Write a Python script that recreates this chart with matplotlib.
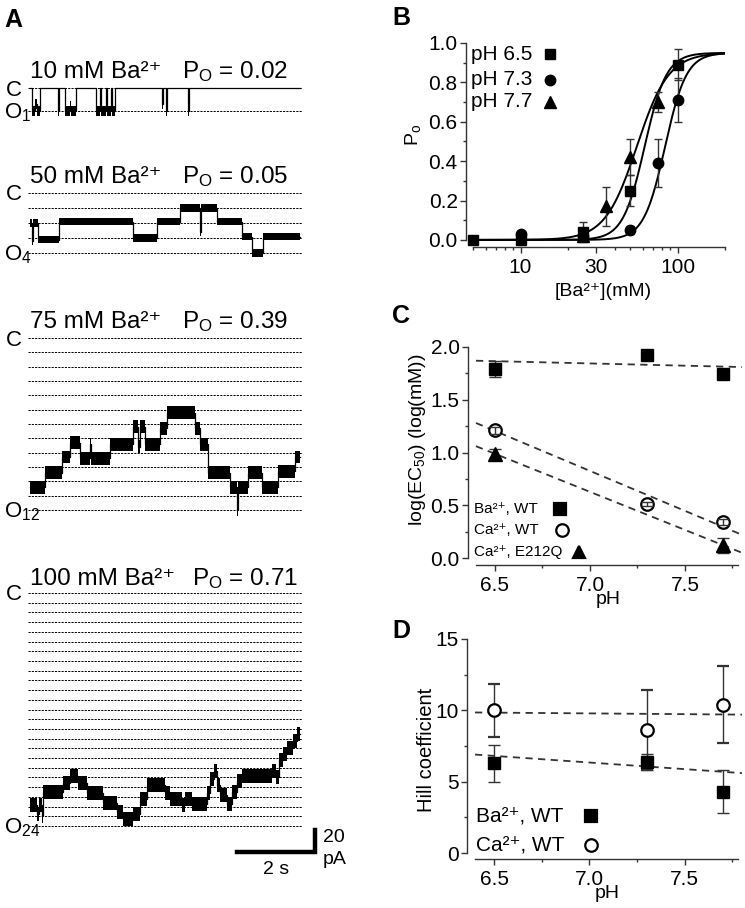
import numpy as np
import matplotlib
matplotlib.use("Agg")
import matplotlib.pyplot as plt
from matplotlib.ticker import FixedLocator, FixedFormatter, NullFormatter, MultipleLocator, FormatStrFormatter

plt.rcParams['font.family'] = ['Liberation Sans', 'DejaVu Sans']
plt.rcParams['mathtext.fontset'] = 'custom'
plt.rcParams['mathtext.rm'] = 'Liberation Sans'
plt.rcParams['mathtext.it'] = 'Liberation Sans:italic'

W, H = 745, 908

# ---------------- data: panel A (single-channel traces, levels) ----------------
trace_conc = ['10 mM Ba²⁺', '50 mM Ba²⁺', '75 mM Ba²⁺', '100 mM Ba²⁺']
trace_po = ['0.02', '0.05', '0.39', '0.71']
n_channels = [1, 4, 12, 24]

tr1_t = [0, 0.05, 0.14, 0.17, 0.26, 0.72, 0.74, 0.90, 1.03, 1.06, 1.18, 1.69, 1.79, 1.83, 1.95, 1.98,
         2.08, 2.10, 2.18, 3.38, 3.40, 3.49, 3.51, 4.05, 4.07, 6.92]
tr1_l = [0, 1, 0.7, 1, 0, 1, 0, 1, 0.8, 1, 0, 1, 0, 1, 0, 1,
         0, 1, 0, 0.7, 0, 1, 0, 1, 0, 0]

tr2_t = [0, 0.05, 0.07, 0.21, 0.74, 2.64, 3.26, 3.85, 4.36, 4.38, 4.79, 5.44, 5.69, 5.97, 6.92]
tr2_l = [2.0, 3.2, 2.0, 3.1, 1.9, 3.0, 1.9, 1.0, 2.6, 1.0, 1.9, 2.9, 4.0, 2.9, 2.9]

tr3_t = [0, 0.38, 0.82, 1.03, 1.28, 1.54, 1.56, 2.05, 2.64, 2.77, 2.82, 2.95, 3.33, 3.51, 4.23, 4.36,
         4.56, 5.13, 5.30, 5.33, 5.59, 5.95, 6.36, 6.79, 6.92]
tr3_l = [10.4, 9.4, 8.3, 7.3, 8.4, 7.4, 8.4, 7.4, 6.2, 7.6, 6.2, 7.4, 6.3, 5.2, 6.3, 7.4,
         9.4, 10.4, 12.0, 10.4, 9.4, 10.4, 9.3, 8.3, 8.3]

tr4_t = [0, 0.18, 0.22, 0.30, 0.33, 0.85, 1.03, 1.24, 1.45, 1.88, 2.22, 2.39, 2.65, 2.82, 3.00, 3.46,
         3.59, 3.89, 3.97, 4.15, 4.53, 4.62, 4.72, 4.79, 4.87, 5.04, 5.17, 5.30, 5.44, 6.20, 6.30,
         6.39, 6.49, 6.59, 6.74, 6.85, 6.92]
tr4_l = [21.8, 22.8, 21.8, 23.0, 20.5, 19.6, 18.9, 19.6, 20.6, 21.6, 22.6, 23.3, 22.8, 21.2, 19.8, 20.6,
         21.2, 21.8, 21.2, 21.7, 20.6, 19.2, 18.3, 19.8, 20.8, 21.7, 20.5, 19.4, 18.8, 18.3, 19.0,
         17.2, 16.6, 16.0, 15.2, 14.5, 14.5]

traces_t = [tr1_t, tr2_t, tr3_t, tr4_t]
traces_l = [tr1_l, tr2_l, tr3_l, tr4_l]

# ---------------- data: panel B ----------------
ba_conc_65 = [5, 10, 25, 50, 100]
po_65 = [0.0, 0.0, 0.04, 0.25, 0.89]
po_65_err = [0.0, 0.0, 0.05, 0.08, 0.08]
ba_conc_73 = [10, 25, 50, 75, 100]
po_73 = [0.03, 0.02, 0.05, 0.39, 0.71]
po_73_err = [0.0, 0.0, 0.02, 0.12, 0.11]
ba_conc_77 = [25, 35, 50, 75]
po_77 = [0.02, 0.17, 0.42, 0.70]
po_77_err = [0.0, 0.10, 0.09, 0.05]
# Hill fit parameters (log EC50 from C, n from D)
fit_logec50 = [1.79, 1.92, 1.74]
fit_hill = [6.3, 6.4, 4.3]
fit_pmax = 0.95

# ---------------- data: panel C ----------------
ph_vals = [6.5, 7.3, 7.7]
logec_ba = [1.79, 1.92, 1.74]
logec_ba_err = [0.075, 0.02, 0.02]
logec_ca = [1.21, 0.51, 0.34]
logec_ca_err = [0.03, 0.02, 0.03]
ph_e212q = [6.5, 7.7]
logec_e212q = [0.99, 0.12]
logec_e212q_err = [0.04, 0.07]
line_ph = [6.4, 7.8]
line_ba = [1.87, 1.81]
line_ca = [1.28, 0.22]
line_e212q = [1.06, 0.05]

# ---------------- data: panel D ----------------
hill_ba = [6.3, 6.4, 4.3]
hill_ba_err = [1.3, 0.55, 1.5]
hill_ca = [10.0, 8.6, 10.4]
hill_ca_err = [1.85, 2.8, 2.7]
hline_ba = [6.9, 5.6]
hline_ca = [9.85, 9.7]

fig = plt.figure(figsize=(W / 100, H / 100), dpi=100)


def box(x0, y0, x1, y1):
    return [x0 / W, 1 - y1 / H, (x1 - x0) / W, (y1 - y0) / H]


def fy(y):
    return 1 - y / H


# ================= panel A =================
c_y = [88, 193, 338, 593]
o_y = [111, 253, 510, 826]
band = [0.22, 0.25, 0.45, 0.72]
po_x = [182, 182, 182, 192]
ax4 = None
for k in range(4):
    n = n_channels[k]
    s = (o_y[k] - c_y[k]) / n
    ax = fig.add_axes(box(28, c_y[k] - 0.6 * s, 302, o_y[k] + 0.6 * s))
    ax.set_xlim(-0.05, 6.97)
    ax.set_ylim(n + 0.6, -0.6)
    ax.axis('off')
    for i in range(n + 1):
        ax.axhline(i, color='k', lw=0.7, ls=(0, (2.2, 1.2)), zorder=1)
    t = np.array(traces_t[k])
    lv = np.array(traces_l[k])
    w = np.where(lv > 0.05, band[k], 0.0)
    ax.fill_between(t, lv - w, lv + w, step='post', color='k', lw=0, zorder=3)
    ax.step(t, lv, where='post', color='k', lw=0.9, zorder=4)
    base = c_y[k] - (10 if k < 3 else 8)
    fig.text(30 / W, fy(base), trace_conc[k], fontsize=17.5, ha='left', va='baseline')
    fig.text(po_x[k] / W, fy(base), r'P$_\mathrm{O}$ = ' + trace_po[k], fontsize=17.5,
             ha='left', va='baseline')
    fig.text(6 / W, fy(c_y[k] + 2), 'C', fontsize=16, ha='left', va='center')
    fig.text(4 / W, fy(o_y[k] + 2), r'O$_{%d}$' % n, fontsize=16, ha='left', va='center')
    ax4 = ax

# scale bar (2 s, 20 pA) in the last trace's coordinates
sb_x0, sb_y0 = 5.31, 26.67
sb_len_s = 2.0
sb_height = 2.27
ax4.plot([sb_x0, sb_x0 + sb_len_s, sb_x0 + sb_len_s], [sb_y0, sb_y0, sb_y0 - sb_height],
         color='k', lw=3.2, solid_joinstyle='miter', clip_on=False)
ax4.text(sb_x0 + sb_len_s / 2, sb_y0 + 0.9, '2 s', fontsize=14, ha='center', va='top')
ax4.text(sb_x0 + sb_len_s + 0.2, sb_y0 - 1.5, '20', fontsize=14, ha='left', va='center')
ax4.text(sb_x0 + sb_len_s + 0.2, sb_y0 + 0.75, 'pA', fontsize=14, ha='left', va='center')

# panel letters
for lab, x, y in [('A', 4, 27), ('B', 392, 25), ('C', 392, 323), ('D', 392, 638)]:
    fig.text(x / W, fy(y), lab, fontsize=18, fontweight='bold', ha='left', va='baseline')


def style_axes(ax):
    for sp in ['top', 'right']:
        ax.spines[sp].set_visible(False)
    for sp in ['left', 'bottom']:
        ax.spines[sp].set_color('#333333')
        ax.spines[sp].set_linewidth(1.0)
    ax.tick_params(which='both', direction='out', color='#333333', width=1.0, labelsize=15, pad=2)
    ax.tick_params(which='major', length=4)
    ax.tick_params(which='minor', length=2.5)
    ax.tick_params(axis='x', pad=4)


# ================= panel B =================
axb = fig.add_axes(box(466, 43, 725, 247))
style_axes(axb)
axb.set_xscale('log')
axb.set_xlim(4.5, 200)
axb.set_ylim(-0.036, 1.0)
axb.spines['left'].set_bounds(0, 1)
axb.spines['bottom'].set_bounds(5, 200)
axb.xaxis.set_major_locator(FixedLocator([10, 30, 100]))
axb.xaxis.set_major_formatter(FixedFormatter(['10', '30', '100']))
axb.xaxis.set_minor_locator(FixedLocator([5, 6, 7, 8, 9, 20, 40, 50, 60, 70, 80, 90, 200]))
axb.xaxis.set_minor_formatter(NullFormatter())
axb.yaxis.set_major_locator(MultipleLocator(0.2))
axb.yaxis.set_minor_locator(MultipleLocator(0.1))
axb.yaxis.set_major_formatter(FormatStrFormatter('%.1f'))

xfit = np.logspace(np.log10(5), np.log10(200), 300)
for lec, nh in zip(fit_logec50, fit_hill):
    axb.plot(xfit, fit_pmax / (1 + (10 ** lec / xfit) ** nh), color='k', lw=1.4, zorder=2)
ekw = dict(ecolor='#333333', elinewidth=1.0, capsize=3, capthick=1.0, ls='none', zorder=3)
axb.errorbar(ba_conc_65, po_65, yerr=po_65_err, marker='s', ms=7, mfc='k', mec='k', **ekw)
axb.errorbar(ba_conc_73, po_73, yerr=po_73_err, marker='o', ms=7.5, mfc='k', mec='k', **ekw)
axb.errorbar(ba_conc_77, po_77, yerr=po_77_err, marker='^', ms=8, mfc='k', mec='k', **ekw)
for txt, mk, yy, ms in [('pH 6.5', 's', 0.946, 7), ('pH 7.3', 'o', 0.819, 7.5), ('pH 7.7', '^', 0.711, 8)]:
    axb.text(0.019, yy, txt, transform=axb.transAxes, fontsize=15, ha='left', va='center')
    axb.plot([0.324], [yy], marker=mk, ms=ms, color='k', transform=axb.transAxes, clip_on=False)
fig.text(413 / W, fy(135), r'P$_\mathrm{o}$', fontsize=14, rotation=90, ha='center', va='center')
fig.text(603 / W, fy(291), '[Ba²⁺](mM)', fontsize=14, ha='center', va='center')

# ================= panel C =================
axc = fig.add_axes(box(468, 347, 742, 565))
style_axes(axc)
axc.set_xlim(6.358, 7.8)
axc.set_ylim(-0.066, 2.0)
axc.spines['left'].set_bounds(0, 2)
axc.spines['bottom'].set_bounds(6.4, 7.78)
axc.xaxis.set_major_locator(MultipleLocator(0.5))
axc.xaxis.set_minor_locator(MultipleLocator(0.25))
axc.yaxis.set_major_locator(MultipleLocator(0.5))
axc.yaxis.set_minor_locator(MultipleLocator(0.25))
axc.xaxis.set_major_formatter(FormatStrFormatter('%.1f'))
axc.yaxis.set_major_formatter(FormatStrFormatter('%.1f'))
dkw = dict(color='#333333', lw=1.3, ls=(0, (4, 3)), zorder=1)
axc.plot(line_ph, line_ba, **dkw)
axc.plot(line_ph, line_ca, **dkw)
axc.plot(line_ph, line_e212q, **dkw)
ekc = dict(ecolor='#333333', elinewidth=1.0, capsize=4, capthick=1.0)
axc.errorbar(ph_vals, logec_ba, yerr=logec_ba_err, marker='s', ms=9, mfc='k', mec='k', ls='none', zorder=3, **ekc)
axc.plot(ph_vals, logec_ca, 'o', ms=9, mfc='white', mec='k', mew=1.6, zorder=3)
axc.errorbar(ph_vals, logec_ca, yerr=logec_ca_err, fmt='none', zorder=4, **ekc)
axc.errorbar(ph_e212q, logec_e212q, yerr=logec_e212q_err, marker='^', ms=10, mfc='k', mec='k', ls='none', zorder=3, **ekc)
for txt, mk, yy, xm, mf in [('Ba²⁺, WT', 's', 0.257, 0.336, 'k'),
                            ('Ca²⁺, WT', 'o', 0.161, 0.343, 'white'),
                            ('Ca²⁺, E212Q', '^', 0.060, 0.405, 'k')]:
    axc.text(0.022, yy, txt, transform=axc.transAxes, fontsize=11, ha='left', va='center')
    axc.plot([xm], [yy], marker=mk, ms=9, mfc=mf, mec='k', mew=1.6, transform=axc.transAxes, clip_on=False)
fig.text(417 / W, fy(440), r'log(EC$_{50}$) (log(mM))', fontsize=14, rotation=90, ha='center', va='center')
fig.text(608 / W, fy(600), 'pH', fontsize=14, ha='center', va='center')

# ================= panel D =================
axd = fig.add_axes(box(467, 639, 742, 859))
style_axes(axd)
axd.set_xlim(6.358, 7.8)
axd.set_ylim(-0.42, 15)
axd.spines['left'].set_bounds(0, 15)
axd.spines['bottom'].set_bounds(6.4, 7.78)
axd.xaxis.set_major_locator(MultipleLocator(0.5))
axd.xaxis.set_minor_locator(MultipleLocator(0.25))
axd.yaxis.set_major_locator(MultipleLocator(5))
axd.yaxis.set_minor_locator(MultipleLocator(2.5))
axd.xaxis.set_major_formatter(FormatStrFormatter('%.1f'))
axd.plot(line_ph, hline_ca, **dkw)
axd.plot(line_ph, hline_ba, **dkw)
axd.errorbar(ph_vals, hill_ca, yerr=hill_ca_err, marker='o', ms=9, mfc='white', mec='k', mew=1.6, ls='none', zorder=3, **ekc)
axd.errorbar(ph_vals, hill_ba, yerr=hill_ba_err, marker='s', ms=9, mfc='k', mec='k', ls='none', zorder=3, **ekc)
for txt, mk, yy, mf in [('Ba²⁺, WT', 's', 0.195, 'k'), ('Ca²⁺, WT', 'o', 0.064, 'white')]:
    axd.text(0.033, yy, txt, transform=axd.transAxes, fontsize=15, ha='left', va='center')
    axd.plot([0.451], [yy], marker=mk, ms=9, mfc=mf, mec='k', mew=1.6, transform=axd.transAxes, clip_on=False)
fig.text(426 / W, fy(750), 'Hill coefficient', fontsize=14.5, rotation=90, ha='center', va='center')
fig.text(607 / W, fy(894), 'pH', fontsize=14, ha='center', va='center')

fig.savefig('out.png', dpi=100)
